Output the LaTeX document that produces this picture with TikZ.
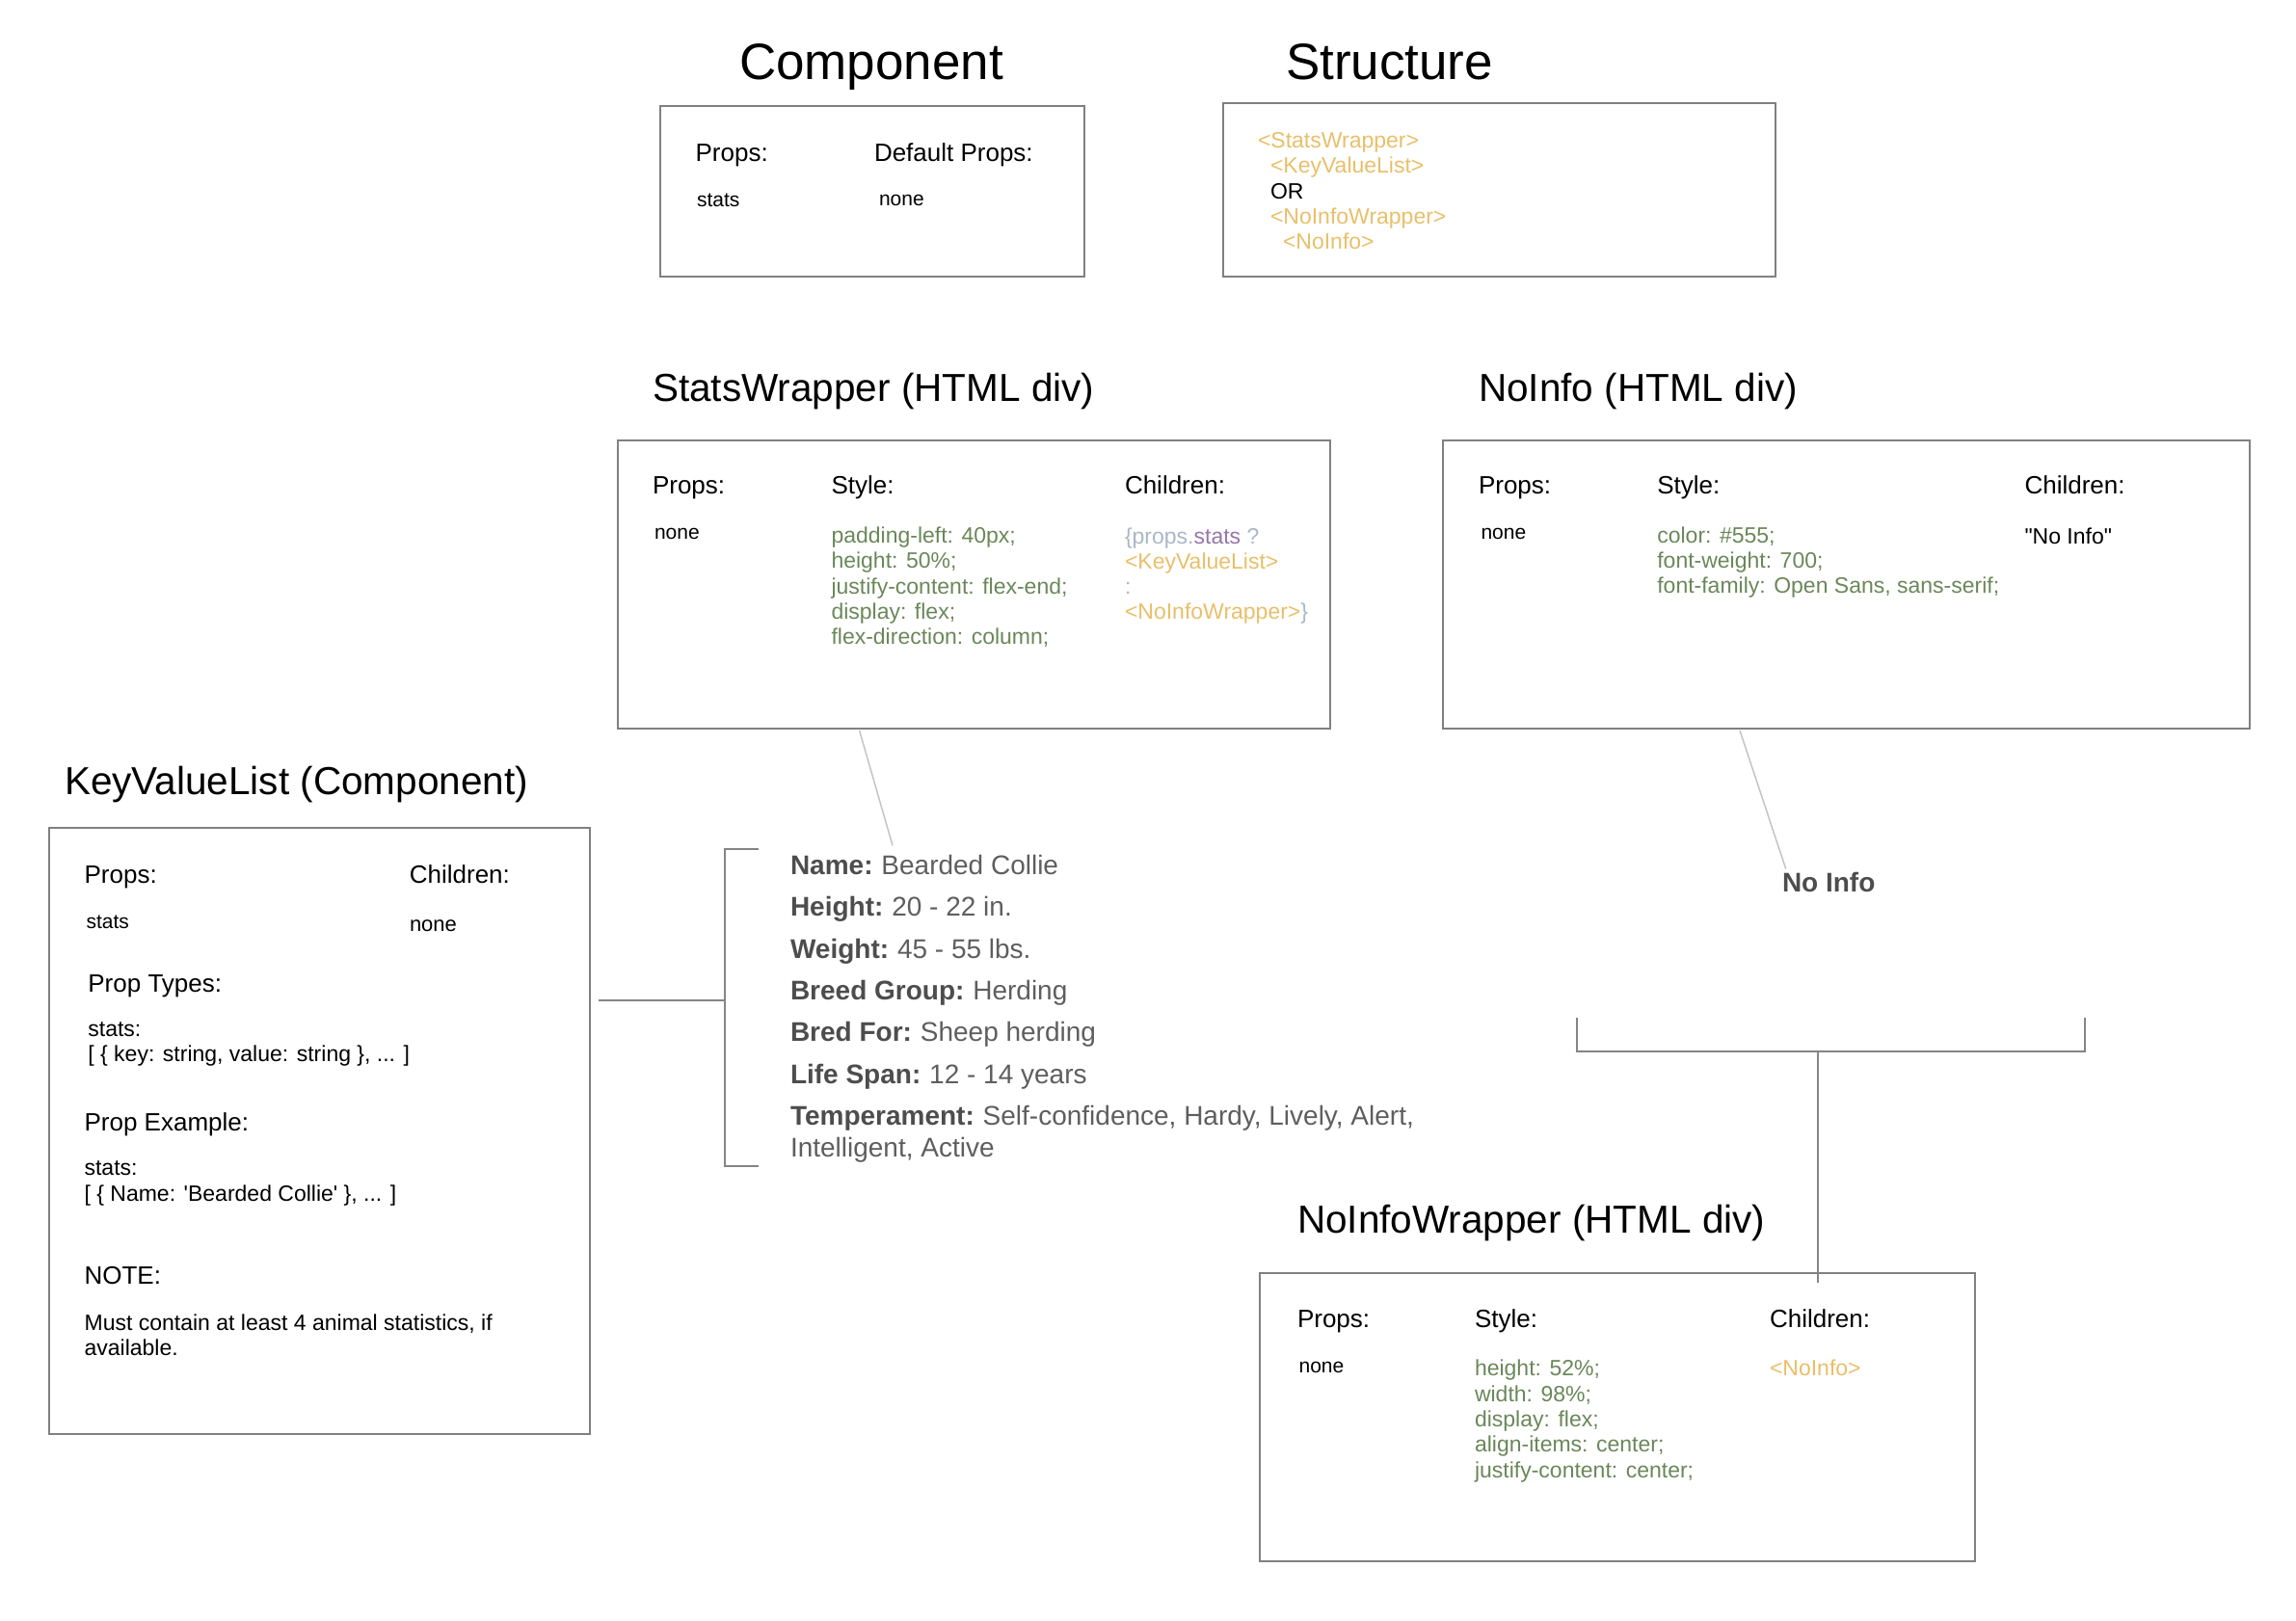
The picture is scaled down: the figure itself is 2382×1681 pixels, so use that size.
\documentclass[tikz,border=0pt]{standalone}
\usepackage{fontspec}
\setmainfont{Liberation Sans}
\usetikzlibrary{calc}
\definecolor{boxgray}{HTML}{808080}
\definecolor{brkgray}{HTML}{858585}
\definecolor{thingray}{HTML}{C4C4C4}
\definecolor{taggold}{HTML}{E8BF6A}
\definecolor{strgreen}{HTML}{6A8759}
\definecolor{codegray}{HTML}{A9B7C6}
\definecolor{codepurple}{HTML}{9876AA}
\definecolor{keygray}{HTML}{4D4D4D}
\definecolor{valgray}{HTML}{5E5E5E}
\begin{document}
\begin{tikzpicture}[x=1pt,y=-1pt,
  box/.style={draw=boxgray, line width=2pt, anchor=north west, inner sep=0pt},
  txt/.style={anchor=base west, inner sep=0pt, outer sep=0pt},
  ttl/.style={txt, font=\fontsize{53}{60}\selectfont},
  sec/.style={txt, font=\fontsize{40.5}{46}\selectfont},
  lbl/.style={txt, font=\fontsize{26}{30}\selectfont},
  body/.style={txt, font=\fontsize{23}{26}\selectfont},
  small/.style={txt, font=\fontsize{21}{24}\selectfont},
  css/.style={body, text=strgreen},
  tag/.style={body, text=taggold},
  item/.style={txt, font=\fontsize{28}{32}\selectfont, text=valgray},
  brk/.style={draw=brkgray, line width=2pt},
  thin/.style={draw=thingray, line width=1.5pt}
]
\useasboundingbox (0,0) rectangle (2382,1681);

% ---------- titles ----------
\node[ttl] (tcomp) at (767,82.5) {Component};
\node[ttl] (tstruct) at (1334,82.5) {Structure};
\node[sec] (tsw) at (677,416) {StatsWrapper (HTML div)};
\node[sec] (tni) at (1534,416) {NoInfo (HTML div)};
\node[sec] (tkvl) at (67,824) {KeyValueList (Component)};
\node[sec] (tniw) at (1346,1279.3) {NoInfoWrapper (HTML div)};

% ---------- boxes ----------
\node[box, minimum width=440.4pt, minimum height=176.2pt] (cbox) at (683.6,109.4) {};
\node[box, minimum width=572.6pt, minimum height=179.3pt] (sbox) at (1268.4,106.3) {};
\node[box, minimum width=739.8pt, minimum height=299.3pt] (swbox) at (639.5,455.7) {};
\node[box, minimum width=837pt, minimum height=299.3pt] (nibox) at (1496.3,455.7) {};
\node[box, minimum width=560.7pt, minimum height=628.9pt] (kvlbox) at (50,858.3) {};
\node[box, minimum width=741.3pt, minimum height=299.4pt] (niwbox) at (1306.4,1320) {};

% ---------- Component box ----------
\node[lbl] (cprops) at (721.6,167.5) {Props:};
\node[lbl] (cdef) at (907,167.5) {Default Props:};
\node[small] (cstats) at (723,214) {stats};
\node[small] (cnone) at (912,213.5) {none};

% ---------- Structure box ----------
\node[tag] (s1) at (1305,153) {<StatsWrapper>};
\node[tag] (s2) at (1318,179.3) {<KeyValueList>};
\node[body] (s3) at (1318,206.5) {OR};
\node[tag] (s4) at (1318,232.7) {<NoInfoWrapper>};
\node[tag] (s5) at (1331,258.5) {<NoInfo>};

% ---------- StatsWrapper box ----------
\node[lbl] (swprops) at (677,512.5) {Props:};
\node[lbl] (swstyle) at (862.5,512.5) {Style:};
\node[lbl] (swchild) at (1167,512.5) {Children:};
\node[small] (swnone) at (679,559.8) {none};
\node[css] (sws1) at (862.5,563.5) {padding-left: 40px;};
\node[css] (sws2) at (862.5,589.8) {height: 50\%;};
\node[css] (sws3) at (862.5,616) {justify-content: flex-end;};
\node[css] (sws4) at (862.5,642.3) {display: flex;};
\node[css] (sws5) at (862.5,668.5) {flex-direction: column;};
\node[body, text=codegray] (swc1) at (1167,564) {\{props.\textcolor{codepurple}{stats} ?};
\node[tag] (swc2) at (1167,590.3) {<KeyValueList>};
\node[body, text=codegray] (swc3) at (1167,616.5) {:};
\node[tag] (swc4) at (1167,642.8) {<NoInfoWrapper>\textcolor{codegray}{\}}};

% ---------- NoInfo box ----------
\node[lbl] (niprops) at (1534,512.5) {Props:};
\node[lbl] (nistyle) at (1719.3,512.5) {Style:};
\node[lbl] (nichild) at (2100.5,512.5) {Children:};
\node[small] (ninone) at (1536.5,559.8) {none};
\node[css] (nis1) at (1719.3,563.3) {color: \#555;};
\node[css] (nis2) at (1719.3,589.5) {font-weight: 700;};
\node[css] (nis3) at (1719.3,615.8) {font-family: Open Sans, sans-serif;};
\node[body] (nic1) at (2100.5,564) {\textquotedbl No Info\textquotedbl};

% ---------- KeyValueList box ----------
\node[lbl] (kprops) at (87.6,916) {Props:};
\node[lbl] (kchild) at (424.9,916) {Children:};
\node[small] (kstats) at (89.5,963) {stats};
\node[txt, font=\fontsize{22}{26}\selectfont] (knone) at (425,966) {none};
\node[lbl] (kpt) at (91.4,1029) {Prop Types:};
\node[body] (kpt1) at (91.4,1075) {stats:};
\node[body] (kpt2) at (91.4,1101.5) {[ \{ key: string, value: string \}, ... ]};
\node[lbl] (kpe) at (87.6,1173) {Prop Example:};
\node[body] (kpe1) at (87.6,1219) {stats:};
\node[body] (kpe2) at (87.6,1246) {[ \{ Name: \textquotesingle Bearded Collie\textquotesingle{} \}, ... ]};
\node[lbl] (knote) at (87.6,1332) {NOTE:};
\node[body] (knote1) at (87.6,1380) {Must contain at least 4 animal statistics, if};
\node[body] (knote2) at (87.6,1406) {available.};

% ---------- NoInfoWrapper box ----------
\node[lbl] (wprops) at (1346,1377.5) {Props:};
\node[lbl] (wstyle) at (1530,1377.5) {Style:};
\node[lbl] (wchild) at (1836,1377.5) {Children:};
\node[small] (wnone) at (1347.6,1424.5) {none};
\node[css] (ws1) at (1530,1427.5) {height: 52\%;};
\node[css] (ws2) at (1530,1454) {width: 98\%;};
\node[css] (ws3) at (1530,1480.4) {display: flex;};
\node[css] (ws4) at (1530,1506.8) {align-items: center;};
\node[css] (ws5) at (1530,1533.2) {justify-content: center;};
\node[tag] (wc1) at (1836,1427.8) {<NoInfo>};

% ---------- rendered stats list ----------
\node[item] (l1) at (820,907.5) {\textcolor{keygray}{\bfseries Name:}\hspace{-1.5pt} Bearded Collie};
\node[item] (l2) at (820,950.8) {\textcolor{keygray}{\bfseries Height:}\hspace{-1.5pt} 20 - 22 in.};
\node[item] (l3) at (820,994.1) {\textcolor{keygray}{\bfseries Weight:}\hspace{-1.5pt} 45 - 55 lbs.};
\node[item] (l4) at (820,1037.5) {\textcolor{keygray}{\bfseries Breed Group:}\hspace{-1.5pt} Herding};
\node[item] (l5) at (820,1080.8) {\textcolor{keygray}{\bfseries Bred For:}\hspace{-1.5pt} Sheep herding};
\node[item] (l6) at (820,1124.5) {\textcolor{keygray}{\bfseries Life Span:}\hspace{-1.5pt} 12 - 14 years};
\node[item] (l7) at (820,1167.5) {\textcolor{keygray}{\bfseries Temperament:}\hspace{-1.5pt} Self-confidence, Hardy, Lively, Alert,};
\node[item] (l8) at (820,1200.8) {Intelligent, Active};

% ---------- rendered no info ----------
\node[txt, font=\fontsize{28}{32}\selectfont\bfseries, text=keygray] (nilabel) at (1849,925) {No Info};

% ---------- connectors ----------
\coordinate (swtail) at ($(swbox.south west)+(252.1,1)$);
\coordinate (listhead) at (926,877.3);
\draw[thin] (swtail) -- (listhead);

\coordinate (nitail) at ($(nibox.south west)+(308.7,1)$);
\coordinate (nilabelhead) at (1852.8,901.7);
\draw[thin] (nitail) -- (nilabelhead);

\coordinate (kvlout) at (621,1037.5);
\coordinate (brmid) at (752,1037.5);
\coordinate (brtop) at (787,881);
\coordinate (brbot) at (787,1209.5);
\draw[brk] (kvlout) -- (brmid);
\draw[brk] (brtop) -- (brtop -| brmid) -- (brbot -| brmid) -- (brbot);

\coordinate (lbl) at (1636,1056);
\coordinate (lbr) at (2163,1056);
\coordinate (lbm) at (1886,1090.7);
\coordinate (niwin) at (1886,1330.7);
\draw[brk] (lbl) |- (lbm) -| (lbr);
\draw[brk] (lbm) -- (niwin);
\end{tikzpicture}
\end{document}
